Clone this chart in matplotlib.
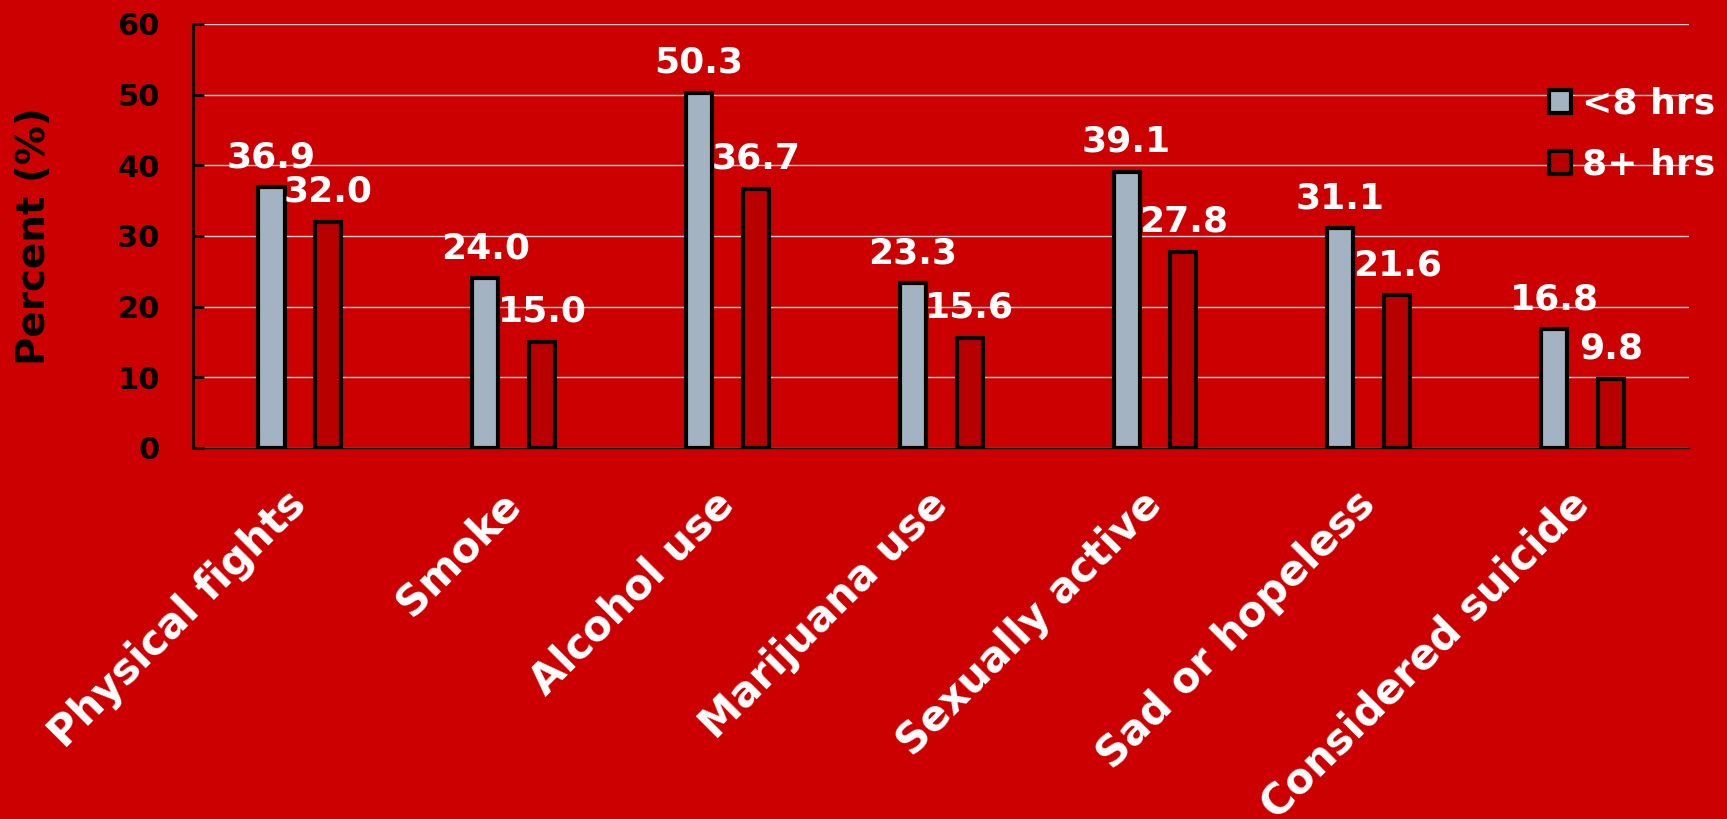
import matplotlib.pyplot as plt
import numpy as np
from matplotlib.patches import Patch

# data
categories = ['Physical fights', 'Smoke', 'Alcohol use', 'Marijuana use',
              'Sexually active', 'Sad or hopeless', 'Considered suicide']
less8 = [36.9, 24.0, 50.3, 23.3, 39.1, 31.1, 16.8]
more8 = [32.0, 15.0, 36.7, 15.6, 27.8, 21.6, 9.8]
series_names = ['<8 hrs', '8+ hrs']
yticks = [0, 10, 20, 30, 40, 50, 60]

bg = '#CC0000'
grayBar = '#A3B3C2'
redBar = '#B80000'

plt.rcParams['font.family'] = 'DejaVu Sans'
plt.rcParams['font.weight'] = 'bold'

fig = plt.figure(figsize=(17.27, 8.19), dpi=100, facecolor=bg)
ax = fig.add_axes([0.1118, 0.453, 0.8664, 0.5177])
ax.set_facecolor(bg)

x = np.arange(len(categories))
w = 0.122
off = 0.133
ax.bar(x - off, less8, w, color=grayBar, edgecolor='black', linewidth=3, zorder=3)
ax.bar(x + off, more8, w, color=redBar, edgecolor='black', linewidth=3, zorder=3)

# value labels above the bars
for xi, v in zip(x - off, less8):
    ax.annotate('%.1f' % v, (xi, v), xytext=(0, 14.5), textcoords='offset points',
                ha='center', va='baseline', color='white', fontsize=26, fontweight='bold', zorder=5)
for xi, v in zip(x + off, more8):
    ax.annotate('%.1f' % v, (xi, v), xytext=(0, 14.5), textcoords='offset points',
                ha='center', va='baseline', color='white', fontsize=26, fontweight='bold', zorder=5)

ax.set_xlim(-0.5, 6.5)
ax.set_ylim(0, 60)
ax.set_yticks(yticks)
ax.yaxis.grid(True, color='#f0d0d0', linewidth=1.0, zorder=0)
ax.set_axisbelow(True)

ax.tick_params(axis='y', direction='in', length=8, width=2, color='black',
               labelsize=22, labelcolor='black', pad=24)
ax.set_yticklabels([str(t) for t in yticks], fontweight='bold')

ax.set_xticks(x)
ax.set_xticklabels(categories, rotation=45, ha='right', va='center',
                   rotation_mode='anchor', color='white', fontsize=30, fontweight='bold')
ax.tick_params(axis='x', length=0, pad=36)

for s in ['top', 'right']:
    ax.spines[s].set_visible(False)
ax.spines['left'].set_linewidth(2)
ax.spines['left'].set_color('black')
ax.spines['bottom'].set_linewidth(1)
ax.spines['bottom'].set_color('black')

ax.set_ylabel('Percent (%)', fontsize=28, fontweight='bold', color='black')
ax.yaxis.set_label_coords(-0.0936, 0.5)

handles = [Patch(facecolor=grayBar, edgecolor='black', linewidth=3),
           Patch(facecolor=redBar, edgecolor='black', linewidth=3)]
leg = fig.legend(handles, series_names, loc='upper right', bbox_to_anchor=(0.993, 0.894),
                 frameon=False, fontsize=26, handlelength=0.6, handleheight=0.6,
                 handletextpad=0.3, labelspacing=0.75, borderpad=0, borderaxespad=0)
for t in leg.get_texts():
    t.set_color('white')
    t.set_fontweight('bold')

fig.savefig('out.png', dpi=100, facecolor=bg)
